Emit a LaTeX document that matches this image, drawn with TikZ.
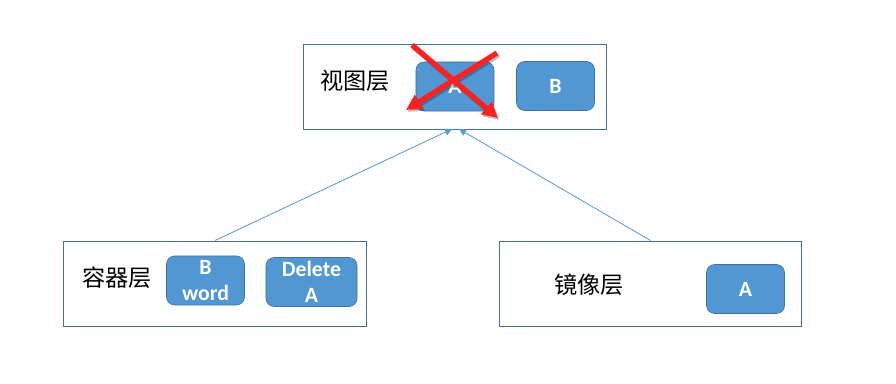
\documentclass[tikz,border=0pt]{standalone}
\usepackage{fontspec}
\setmainfont{Carlito}
\newfontfamily\cjkfont{Noto Sans CJK SC}
\usetikzlibrary{arrows.meta}
\definecolor{frameColor}{HTML}{41719C}
\definecolor{boxColor}{HTML}{5197D3}
\definecolor{linkColor}{HTML}{5B9BD5}
\definecolor{crossColor}{HTML}{FF2020}

\begin{document}
\begin{tikzpicture}[x=0.025cm, y=-0.025cm,
		layer/.style={draw=frameColor, line width=0.7pt, minimum width=7.55cm, minimum height=2.125cm, inner sep=0pt},
		layerlbl/.style={font=\cjkfont\fontsize{16.5}{19}\selectfont},
		item/.style={draw=frameColor, fill=boxColor, rounded corners=0.2cm, minimum width=1.95cm, minimum height=1.225cm, inner sep=0pt, align=center, text=white, font=\bfseries\fontsize{15.5}{18.5}\selectfont},
		link/.style={draw=linkColor, line width=0.6pt, -{Triangle[length=5pt,width=5pt]}},
		cross/.style={draw=crossColor, line width=3.8pt, -{Triangle[length=11pt,width=11pt]}},
		crossshadow/.style={draw=black, opacity=0.25, line width=3.8pt, -{Triangle[length=11pt,width=11pt]}}
		]
		\useasboundingbox (0,0) rectangle (896,383);

		% Layers
		\node[layer] (view) at (455,86.5) {};
		\node[layerlbl] (viewLbl) at (355,81) {视图层};
		\node[item] (viewA) at (455,86.5) {A};
		\node[item] (viewB) at (555.5,86) {B};

		\node[layer] (container) at (215,283.5) {};
		\node[layerlbl] (containerLbl) at (117,278) {容器层};
		\node[item] (contB) at (205.5,280.5) {B\\word};
		\node[item, minimum width=2.275cm] (contDel) at (311.5,282) {Delete\\A};

		\node[layer] (image) at (650.5,283.5) {};
		\node[layerlbl] (imageLbl) at (589,285) {镜像层};
		\node[item] (imgA) at (745.5,289) {A};

		% Links
		\coordinate (inL) at (452,129);
		\coordinate (inR) at (459,129);
		\draw[link] (container.north) -- (inL);
		\draw[link] (image.north) -- (inR);

		% Cross over A
		\coordinate (crossAs) at (412,45);
		\coordinate (crossAe) at (498,118);
		\coordinate (crossBs) at (497,53);
		\coordinate (crossBe) at (406,110);
		\draw[crossshadow] ([shift={(1.5,2)}]crossAs) -- ([shift={(1.5,2)}]crossAe);
		\draw[crossshadow] ([shift={(1.5,2)}]crossBs) -- ([shift={(1.5,2)}]crossBe);
		\draw[cross] (crossAs) -- (crossAe);
		\draw[cross] (crossBs) -- (crossBe);
	\end{tikzpicture}
\end{document}
